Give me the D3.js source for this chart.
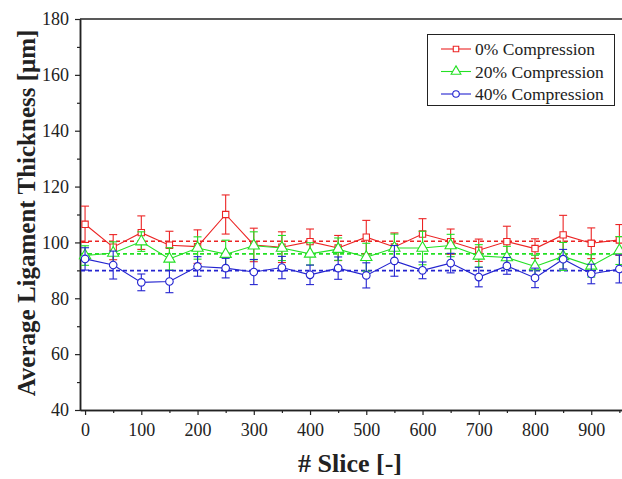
<!DOCTYPE html>
<html>
<head>
<meta charset="utf-8">
<script src="https://cdn.jsdelivr.net/npm/d3@7"></script>
<style>
  body { margin: 0; background: #fff; }
  svg { display: block; }
  svg text { font-family: "Liberation Serif", "DejaVu Serif", serif; }
</style>
</head>
<body>
<svg id="chart" width="622" height="479"></svg>
<script>
const slices = [0,50,100,150,200,250,300,350,400,450,500,550,600,650,700,750,800,850,900,950];
const red   = [106.5,98.3,103.5,99.0,98.5,110.0,99.1,98.3,100.3,98.0,101.9,98.4,103.0,100.3,97.2,100.3,97.8,102.7,99.7,100.9];
const redErr = [6.5,4.5,6,5,6,7,6,5.5,4.5,4.5,6,5,5.5,4.5,4,5.5,3.5,7,5.5,5.5];
const green = [95.3,96.2,100.3,94.1,98.0,95.8,98.8,98.0,95.9,97.6,94.7,98.0,98.0,98.9,95.2,94.6,91.4,95.0,91.6,97.1];
const greenErr = [3.5,4,3.5,4,4,5,5,4.5,4,4,5,5,6,4,4,4,4,5,4,5];
const blue  = [94.1,91.9,85.7,86.0,91.4,90.8,89.4,91.0,88.4,90.8,88.2,93.4,90.0,92.6,87.6,91.6,87.3,94.0,88.7,90.5];
const blueErr = [4,5,3,4,3.5,3.5,4.5,4,3.5,4,4.5,5.5,3,3.5,3.5,3,3.5,3.5,3.5,5];
const means = [100.4, 95.9, 89.9];
const seriesNames = ["0% Compression","20% Compression","40% Compression"];
const seriesColors = ["#ec2424","#24e024","#2424d0"];
const seriesMarkers = ["square","triangle","circle"];
const xTicks = [0,100,200,300,400,500,600,700,800,900];
const xMinor = [50,150,250,350,450,550,650,750,850,950];
const yTicks = [40,60,80,100,120,140,160,180];
const yMinor = [50,70,90,110,130,150,170];

const svg = d3.select("#chart");
const x = d3.scaleLinear().domain([-9, 960]).range([80, 625]);
const y = d3.scaleLinear().domain([40, 180]).range([410, 19]);
const font = "Liberation Serif, DejaVu Serif, serif";

// axes
const xAxis = svg.append("g").attr("transform","translate(0,410)")
  .call(d3.axisBottom(x).tickValues(xTicks).tickSize(5).tickSizeOuter(0).tickPadding(8));
const xAxisMinor = svg.append("g").attr("transform","translate(0,410)")
  .call(d3.axisBottom(x).tickValues(xMinor).tickSize(3).tickFormat("").tickSizeOuter(0));
const yAxis = svg.append("g").attr("transform","translate(80,0)")
  .call(d3.axisLeft(y).tickValues(yTicks).tickSize(5).tickSizeOuter(0).tickPadding(6));
const yAxisMinor = svg.append("g").attr("transform","translate(80,0)")
  .call(d3.axisLeft(y).tickValues(yMinor).tickSize(3).tickFormat("").tickSizeOuter(0));
[xAxis,xAxisMinor,yAxis,yAxisMinor].forEach(g => {
  g.attr("font-family", font).attr("font-size", 18);
  g.selectAll("path.domain").attr("stroke","#222").attr("stroke-width",1.5);
  g.selectAll(".tick line").attr("stroke","#222").attr("stroke-width",1.2);
  g.selectAll(".tick text").attr("fill","#222").attr("font-family",font).attr("font-size",18);
});
// top axis line
svg.append("line").attr("x1",x.range()[0]).attr("x2",x.range()[1]).attr("y1",y(180)).attr("y2",y(180))
  .attr("stroke","#222").attr("stroke-width",1.5);

// mean dashed lines
means.forEach((m,i) => {
  svg.append("line").attr("x1",x.range()[0]+1).attr("x2",x.range()[1]).attr("y1",y(m)).attr("y2",y(m))
    .attr("stroke",seriesColors[i]).attr("stroke-width",1.6).attr("stroke-dasharray","4,3");
});

const seriesData = [[red,redErr],[green,greenErr],[blue,blueErr]];
const symbolFor = {square: d3.symbolSquare, triangle: d3.symbolTriangle, circle: d3.symbolCircle};
const sizeFor = {square: 40, triangle: 55, circle: 45};

seriesData.forEach(([vals, errs], i) => {
  const c = seriesColors[i];
  const pts = slices.map((s,k) => ({s, v: vals[k], e: errs[k]}));
  const g = svg.append("g");
  const eb = g.selectAll("g.eb").data(pts).enter().append("g");
  eb.append("line").attr("x1",d=>x(d.s)).attr("x2",d=>x(d.s)).attr("y1",d=>y(d.v-d.e)).attr("y2",d=>y(d.v+d.e))
    .attr("stroke",c).attr("stroke-width",1.1);
  eb.append("line").attr("x1",d=>x(d.s)-4).attr("x2",d=>x(d.s)+4).attr("y1",d=>y(d.v+d.e)).attr("y2",d=>y(d.v+d.e))
    .attr("stroke",c).attr("stroke-width",1.1);
  eb.append("line").attr("x1",d=>x(d.s)-4).attr("x2",d=>x(d.s)+4).attr("y1",d=>y(d.v-d.e)).attr("y2",d=>y(d.v-d.e))
    .attr("stroke",c).attr("stroke-width",1.1);
  g.append("path").datum(pts).attr("fill","none").attr("stroke",c).attr("stroke-width",1.1)
    .attr("d", d3.line().x(d=>x(d.s)).y(d=>y(d.v)));
  const sym = d3.symbol().type(symbolFor[seriesMarkers[i]]).size(sizeFor[seriesMarkers[i]]);
  g.selectAll("path.m").data(pts).enter().append("path")
    .attr("transform", d=>`translate(${x(d.s)},${y(d.v)})`)
    .attr("d", sym).attr("fill","#fff").attr("stroke",c).attr("stroke-width",1.1);
});

// legend
const lg = svg.append("g");
lg.append("rect").attr("x",427.5).attr("y",34.5).attr("width",187).attr("height",71)
  .attr("fill","#fff").attr("stroke","#222").attr("stroke-width",1);
seriesNames.forEach((n,i) => {
  const yy = 49 + i*22.5;
  lg.append("line").attr("x1",441).attr("x2",471).attr("y1",yy).attr("y2",yy).attr("stroke",seriesColors[i]).attr("stroke-width",1.1);
  const sym = d3.symbol().type(symbolFor[seriesMarkers[i]]).size(sizeFor[seriesMarkers[i]]*0.75);
  lg.append("path").attr("transform",`translate(456,${yy})`).attr("d",sym).attr("fill","#fff")
    .attr("stroke",seriesColors[i]).attr("stroke-width",1.1);
  lg.append("text").attr("x",475).attr("y",yy+6).text(n)
    .attr("font-family",font).attr("font-size",17.5).attr("fill","#222");
});

// axis titles
svg.append("text").attr("x",350).attr("y",472).attr("text-anchor","middle").text("# Slice [-]")
  .attr("font-family",font).attr("font-size",26).attr("font-weight","bold").attr("fill","#222");
svg.append("text").attr("transform","translate(35,213) rotate(-90)").attr("text-anchor","middle")
  .text("Average Ligament Thickness [μm]")
  .attr("font-family",font).attr("font-size",25).attr("font-weight","bold").attr("fill","#222");
</script>
</body>
</html>
